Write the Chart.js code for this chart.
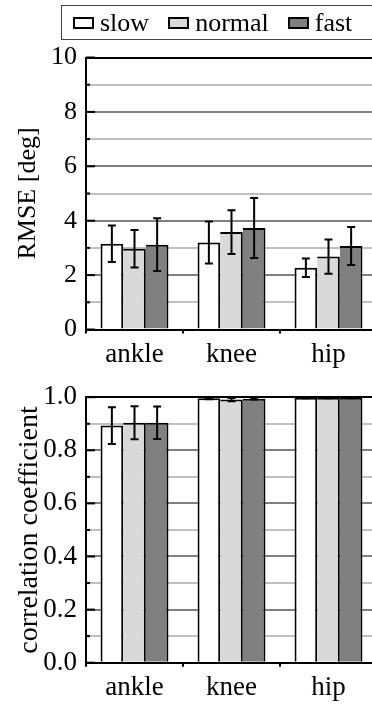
<!DOCTYPE html>
<html>
<head>
<meta charset="utf-8">
<script src="https://cdn.jsdelivr.net/npm/chart.js@4.4.0/dist/chart.umd.min.js"></script>
<style>
  html, body { margin: 0; padding: 0; background: #fff; overflow: hidden; }
  #wrap { position: relative; width: 372px; height: 704px; overflow: hidden; }
  canvas { position: absolute; left: 0; }
  #c1 { top: 0; }
  #c2 { top: 372px; }
  #legend {
    position: absolute; left: 61px; top: 5px; width: 340px; height: 35px;
    box-sizing: border-box; border: 1.5px solid #444;
    display: flex; align-items: center; padding-left: 11px;
    font-family: 'Liberation Serif', 'Times New Roman', serif; font-size: 26px; color: #000;
  }
  .item { display: flex; align-items: center; margin-right: 19px; }
  .sw { width: 21px; height: 12px; box-sizing: border-box; border: 2px solid #000; margin-right: 6px; }
</style>
</head>
<body>
<div id="wrap">
  <canvas id="c1" width="380" height="372"></canvas>
  <canvas id="c2" width="380" height="332"></canvas>
  <div id="legend"></div>
</div>
<script>
// Joints and walking speeds
const joints = ['ankle', 'knee', 'hip'];
const speeds = ['slow', 'normal', 'fast'];
const speedColors = ['#ffffff', '#d9d9d9', '#808080'];

// RMSE [deg], mean and standard deviation per joint
const rmseSlow = [3.15, 3.20, 2.27];
const rmseNormal = [2.97, 3.58, 2.68];
const rmseFast = [3.12, 3.73, 3.07];
const rmseSlowSd = [0.67, 0.77, 0.34];
const rmseNormalSd = [0.69, 0.80, 0.63];
const rmseFastSd = [0.97, 1.10, 0.70];

// Correlation coefficient, mean and standard deviation per joint
const corrSlow = [0.893, 0.996, 0.998];
const corrNormal = [0.904, 0.991, 0.998];
const corrFast = [0.904, 0.994, 0.998];
const corrSlowSd = [0.069, 0.004, 0.002];
const corrNormalSd = [0.062, 0.006, 0.002];
const corrFastSd = [0.061, 0.003, 0.002];

// Labelled ticks on the value axes (every other grid line)
const rmseTickLabels = ['0', '2', '4', '6', '8', '10'];
const corrTickLabels = ['0.0', '0.2', '0.4', '0.6', '0.8', '1.0'];

const FONT = "'Liberation Serif', 'Times New Roman', serif";

// Short inward ticks on the value axis plus error bars on each bar
const overlayPlugin = {
  id: 'overlay',
  afterDatasetsDraw(chart) {
    const ctx = chart.ctx;
    const ys = chart.scales.y;
    const left = chart.chartArea.left;
    ctx.save();
    ctx.strokeStyle = '#000';
    ctx.lineWidth = 2;
    ys.ticks.forEach((t, i) => {
      const py = ys.getPixelForValue(t.value);
      const len = i % 2 === 0 ? 9 : 4;
      ctx.beginPath();
      ctx.moveTo(left, py);
      ctx.lineTo(left + len, py);
      ctx.stroke();
    });
    chart.data.datasets.forEach((ds, di) => {
      const meta = chart.getDatasetMeta(di);
      meta.data.forEach((bar, j) => {
        const v = ds.data[j], e = ds.errors[j];
        const yt = ys.getPixelForValue(v + e);
        const yb = ys.getPixelForValue(v - e);
        const cap = 4;
        ctx.beginPath();
        ctx.moveTo(bar.x, yt); ctx.lineTo(bar.x, yb);
        ctx.moveTo(bar.x - cap, yt); ctx.lineTo(bar.x + cap, yt);
        ctx.moveTo(bar.x - cap, yb); ctx.lineTo(bar.x + cap, yb);
        ctx.stroke();
      });
    });
    ctx.restore();
  }
};

function makeDatasets(series, errs) {
  return series.map((d, i) => ({
    label: speeds[i],
    data: d,
    errors: errs[i],
    backgroundColor: speedColors[i],
    borderColor: '#000',
    borderWidth: i === 0 ? { top: 2, left: 2, right: 2, bottom: 0 } : { top: 2, left: 0, right: 2, bottom: 0 },
    borderSkipped: 'start',
    barPercentage: 1.0,
    categoryPercentage: 0.70
  }));
}

function makeChart(canvasId, datasets, cfg) {
  const nTicks = Math.round((cfg.max - cfg.min) / cfg.step) + 1;
  return new Chart(document.getElementById(canvasId), {
    type: 'bar',
    data: { labels: joints, datasets },
    options: {
      responsive: false,
      animation: false,
      devicePixelRatio: 1,
      layout: { padding: { top: cfg.padTop, right: 3, left: 0, bottom: 0 } },
      plugins: { legend: { display: false }, tooltip: { enabled: false } },
      scales: {
        x: {
          ticks: { color: '#000', font: { family: FONT, size: cfg.xFont }, padding: 5 },
          grid: { display: true, drawOnChartArea: false, offset: true, tickLength: 4, color: '#000', lineWidth: 2 },
          border: { color: '#000', width: 2 },
          afterFit: s => { s.height = cfg.xHeight; }
        },
        y: {
          min: cfg.min,
          max: cfg.max,
          ticks: {
            stepSize: cfg.step,
            autoSkip: false,
            padding: 9,
            color: '#000',
            font: { family: FONT, size: cfg.yFont },
            callback: (v, i) => (i % 2 === 0 ? cfg.tickLabels[i / 2] : '')
          },
          grid: {
            drawTicks: false,
            lineWidth: 2,
            color: c => (c.index === nTicks - 1 ? '#000' : (c.index % 2 === 0 ? '#808080' : '#c0c0c0'))
          },
          border: { color: '#000', width: 2 },
          title: {
            display: true, text: cfg.title, color: '#000',
            font: { family: FONT, size: cfg.titleFont }, padding: { top: 13, bottom: 0 }
          },
          afterFit: s => { s.width = 86; }
        }
      }
    },
    plugins: [overlayPlugin]
  });
}

const chartTop = makeChart('c1',
  makeDatasets([rmseSlow, rmseNormal, rmseFast], [rmseSlowSd, rmseNormalSd, rmseFastSd]),
  { min: 0, max: 10, step: 1, tickLabels: rmseTickLabels, title: 'RMSE [deg]',
    padTop: 57.5, xHeight: 42.5, xFont: 27, yFont: 26, titleFont: 26 });

makeChart('c2',
  makeDatasets([corrSlow, corrNormal, corrFast], [corrSlowSd, corrNormalSd, corrFastSd]),
  { min: 0, max: 1, step: 0.1, tickLabels: corrTickLabels, title: 'correlation coefficient',
    padTop: 21, xHeight: 41.3, xFont: 27, yFont: 27, titleFont: 28 });

// Shared legend built from the chart's datasets
const legend = document.getElementById('legend');
chartTop.data.datasets.forEach(ds => {
  const item = document.createElement('div');
  item.className = 'item';
  const sw = document.createElement('span');
  sw.className = 'sw';
  sw.style.background = ds.backgroundColor;
  const txt = document.createElement('span');
  txt.textContent = ds.label;
  item.appendChild(sw);
  item.appendChild(txt);
  legend.appendChild(item);
});
</script>
</body>
</html>
